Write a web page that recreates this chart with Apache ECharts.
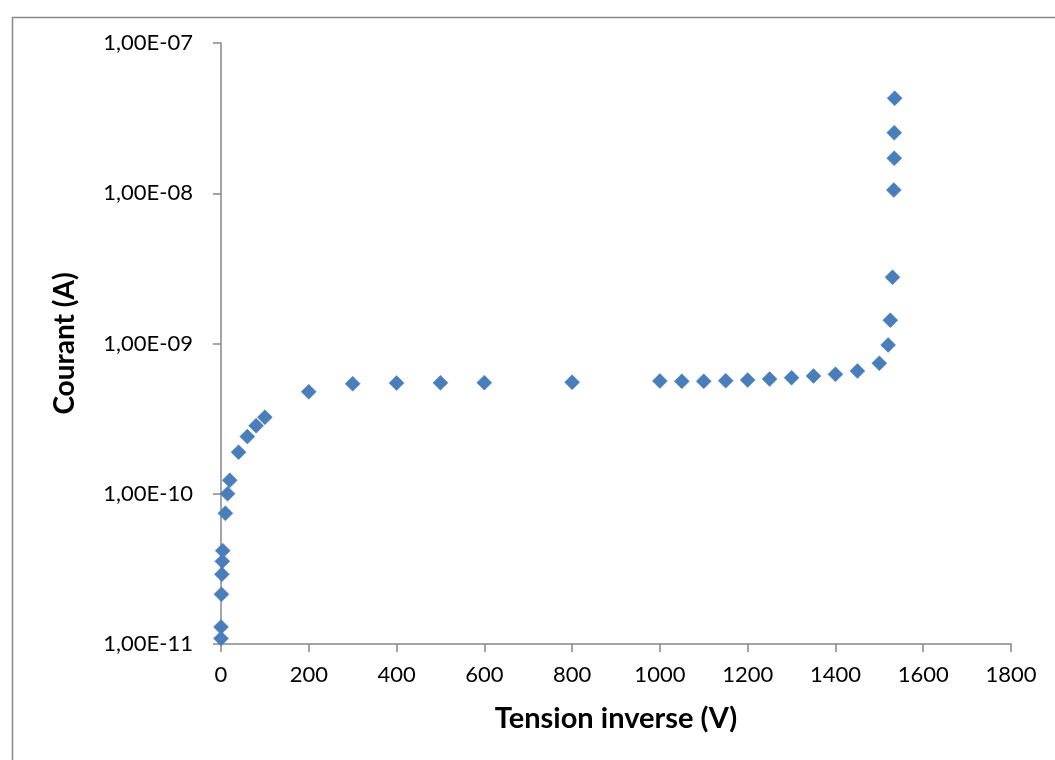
<!DOCTYPE html>
<html>
<head>
<meta charset="utf-8">
<script src="https://cdn.jsdelivr.net/npm/echarts@6/dist/echarts.min.js"></script>
<style>
  html, body { margin: 0; padding: 0; background: #fff; }
  #chart { width: 1055px; height: 760px; }
</style>
</head>
<body>
<div id="chart"></div>
<script>
// Reverse voltage (V) and leakage current (A) of the diode
const tensionInverse = [0, 0, 1, 2, 3, 4, 10, 15, 20, 40, 60, 80, 100, 200, 300, 400, 500, 600, 800,
  1000, 1050, 1100, 1150, 1200, 1250, 1300, 1350, 1400, 1450, 1500, 1520, 1525, 1530, 1533, 1534, 1534, 1535];
const courant = [1.09e-11, 1.30e-11, 2.14e-11, 2.91e-11, 3.55e-11, 4.18e-11, 7.41e-11, 1.00e-10, 1.23e-10,
  1.89e-10, 2.40e-10, 2.84e-10, 3.23e-10, 4.77e-10, 5.40e-10, 5.45e-10, 5.47e-10, 5.49e-10, 5.52e-10,
  5.63e-10, 5.60e-10, 5.60e-10, 5.66e-10, 5.71e-10, 5.80e-10, 5.92e-10, 6.08e-10, 6.24e-10, 6.56e-10, 7.38e-10,
  9.78e-10, 1.43e-9, 2.76e-9, 1.05e-8, 1.71e-8, 2.53e-8, 4.29e-8];

const xTitle = 'Tension inverse (V)';
const yTitle = 'Courant (A)';

// Excel-style scientific label: 1,00E-07
function sci(v) {
  const e = Math.floor(Math.log10(v) + 1e-9);
  const m = v / Math.pow(10, e);
  const sign = e < 0 ? '-' : '+';
  const ae = Math.abs(e);
  return m.toFixed(2).replace('.', ',') + 'E' + sign + (ae < 10 ? '0' + ae : ae);
}

const points = tensionInverse.map((x, i) => [x, courant[i]]);
const axisColor = '#878787';
const font = 'Lato, "Liberation Sans", sans-serif';

const chart = echarts.init(document.getElementById('chart'), null, { renderer: 'canvas' });
chart.setOption({
  animation: false,
  backgroundColor: '#fff',
  grid: { left: 221, right: 44, top: 43, bottom: 116 },
  graphic: [{
    type: 'rect',
    left: 10, top: 15,
    shape: { width: 1100, height: 800 },
    style: { fill: 'none', stroke: '#888', lineWidth: 1.5 },
    z: 0
  }],
  xAxis: {
    type: 'value',
    min: 0, max: 1800, interval: 200,
    name: xTitle,
    nameLocation: 'middle',
    nameGap: 60,
    nameTextStyle: { fontFamily: font, fontWeight: 'bold', fontSize: 29, color: '#000' },
    axisLine: { show: true, onZero: false, lineStyle: { color: axisColor, width: 1.5 } },
    axisTick: { show: true, length: 8, lineStyle: { color: axisColor, width: 1.5 } },
    axisLabel: { fontFamily: font, fontSize: 22, color: '#000', margin: 20, formatter: v => String(v) },
    splitLine: { show: false }
  },
  yAxis: {
    type: 'log',
    logBase: 10,
    min: 1e-11, max: 1e-7,
    name: yTitle,
    nameLocation: 'middle',
    nameGap: 142,
    nameRotate: 90,
    nameTextStyle: { fontFamily: font, fontWeight: 'bold', fontSize: 28, color: '#000' },
    axisLine: { show: true, lineStyle: { color: axisColor, width: 1.5 } },
    axisTick: { show: true, length: 8, lineStyle: { color: axisColor, width: 1.5 } },
    axisLabel: { fontFamily: font, fontSize: 22, color: '#000', margin: 28, formatter: sci },
    splitLine: { show: false }
  },
  series: [{
    type: 'scatter',
    data: points,
    symbol: 'diamond',
    symbolSize: 15,
    itemStyle: { color: '#4a7ebb', borderColor: '#4a7ebb', borderWidth: 0.5, opacity: 1 }
  }]
});
</script>
</body>
</html>
